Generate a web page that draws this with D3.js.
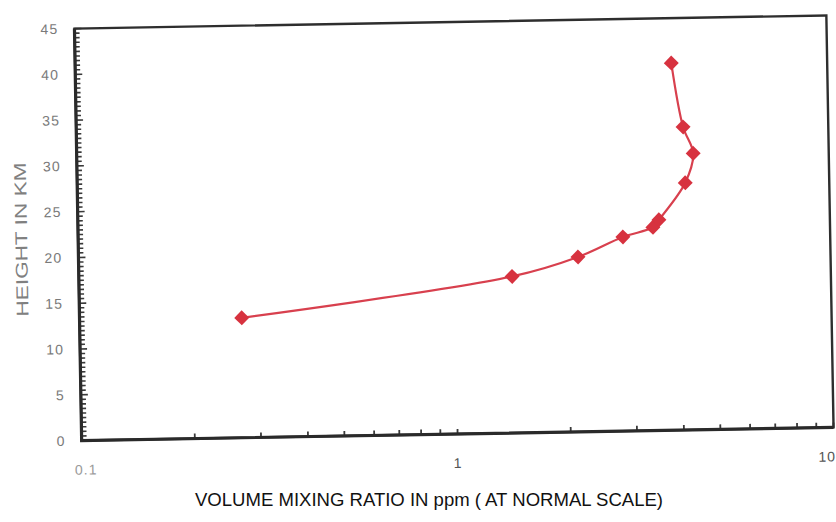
<!DOCTYPE html>
<html>
<head>
<meta charset="utf-8">
<script src="https://cdn.jsdelivr.net/npm/d3@7"></script>
<style>
  html, body { margin: 0; padding: 0; background: #fff; }
  svg { display: block; font-family: "Liberation Sans", Arial, sans-serif; }
</style>
</head>
<body>
<div id="chart"></div>
<script>
// values
const heightKm = [13.1, 17.1, 19.1, 21.2, 22.2, 23.0, 27.0, 30.2, 33.1, 40.1];
const mixingRatio = [0.27, 1.42, 2.13, 2.81, 3.38, 3.51, 4.14, 4.36, 4.11, 3.85];
const yTickLabels = [0, 5, 10, 15, 20, 25, 30, 35, 40, 45];
const xTickLabels = [0.1, 1, 10];

const width = 836, height = 522;
const margin = { top: 22, right: 6, bottom: 88, left: 78 };
const plotLeft = margin.left, plotRight = width - margin.right;
const plotTop = margin.top, plotBottom = height - margin.bottom;

const svg = d3.select("#chart").append("svg")
  .attr("width", width).attr("height", height)
  .attr("viewBox", `0 0 ${width} ${height}`);

const x = d3.scaleLog().domain([0.1, 10]).range([plotLeft, plotRight]);
const y = d3.scaleLinear().domain([0, 45]).range([plotBottom, plotTop]);

// the scan is a little crooked, so tilt the plot by about a degree
const cx = (plotLeft + plotRight) / 2, cy = (plotTop + plotBottom) / 2;
const plot = svg.append("g").attr("transform", `rotate(-1, ${cx}, ${cy})`);

// minor ticks on the height axis every half km, pointing inward
const yTicks = d3.range(0, 45.01, 0.5);
plot.append("g").selectAll("line").data(yTicks).enter().append("line")
  .attr("x1", plotLeft).attr("x2", (d) => plotLeft + (d % 5 === 0 ? 7 : 5))
  .attr("y1", (d) => y(d)).attr("y2", (d) => y(d))
  .attr("stroke", "#3a3a3a").attr("stroke-width", 1.6);

// log ticks on the ratio axis
plot.append("g").selectAll("line").data(x.ticks()).enter().append("line")
  .attr("x1", (d) => x(d)).attr("x2", (d) => x(d))
  .attr("y1", plotBottom).attr("y2", plotBottom - 5)
  .attr("stroke", "#3a3a3a").attr("stroke-width", 1.8);

// frame
plot.append("rect")
  .attr("x", plotLeft).attr("y", plotTop)
  .attr("width", plotRight - plotLeft).attr("height", plotBottom - plotTop)
  .attr("fill", "none").attr("stroke", "#2e2e2e").attr("stroke-width", 2.4);
plot.append("path")
  .attr("d", `M${plotLeft},${plotTop}V${plotBottom}H${plotRight}`)
  .attr("fill", "none").attr("stroke", "#2a2a2a").attr("stroke-width", 3.2);

plot.append("g").selectAll("text").data(yTickLabels).enter().append("text")
  .attr("x", plotLeft - 16).attr("y", (d) => y(d) + 5)
  .attr("text-anchor", "end").attr("font-size", 14).attr("letter-spacing", 1.2)
  .attr("fill", "#7a7a7a")
  .text((d) => d);

// the right-hand "10" sits at the page edge, so pull it inside
plot.append("g").selectAll("text").data(xTickLabels).enter().append("text")
  .attr("x", (d) => (d === 10 ? width - 4 : x(d) + (d === 0.1 ? 4 : 0)))
  .attr("y", plotBottom + 34)
  .attr("text-anchor", (d) => (d === 10 ? "end" : "middle"))
  .attr("font-size", 14).attr("letter-spacing", 1)
  .attr("fill", (d) => (d === 0.1 ? "#9a9a9a" : "#555"))
  .text((d) => d);

plot.append("text")
  .attr("transform", `translate(27, ${cy + 4}) rotate(-90)`)
  .attr("text-anchor", "middle").attr("font-size", 17)
  .attr("textLength", 154).attr("lengthAdjust", "spacingAndGlyphs")
  .attr("fill", "#808080")
  .text("HEIGHT IN KM");

const points = heightKm.map((h, i) => ({ h, v: mixingRatio[i] }));

const line = d3.line()
  .x((d) => x(d.v)).y((d) => y(d.h))
  .curve(d3.curveCatmullRom.alpha(0.5));

plot.append("path")
  .datum(points)
  .attr("d", line)
  .attr("fill", "none").attr("stroke", "#d8404e").attr("stroke-width", 2.2);

plot.append("g").selectAll("path").data(points).enter().append("path")
  .attr("d", d3.symbol().type(d3.symbolSquare).size(112))
  .attr("transform", (d) => `translate(${x(d.v)},${y(d.h)}) rotate(45)`)
  .attr("fill", "#d7323f");

svg.append("text")
  .attr("x", 429).attr("y", 506)
  .attr("text-anchor", "middle").attr("font-size", 18)
  .attr("textLength", 468).attr("lengthAdjust", "spacingAndGlyphs")
  .attr("fill", "#111")
  .text("VOLUME MIXING RATIO IN ppm ( AT NORMAL SCALE)");
</script>
</body>
</html>
